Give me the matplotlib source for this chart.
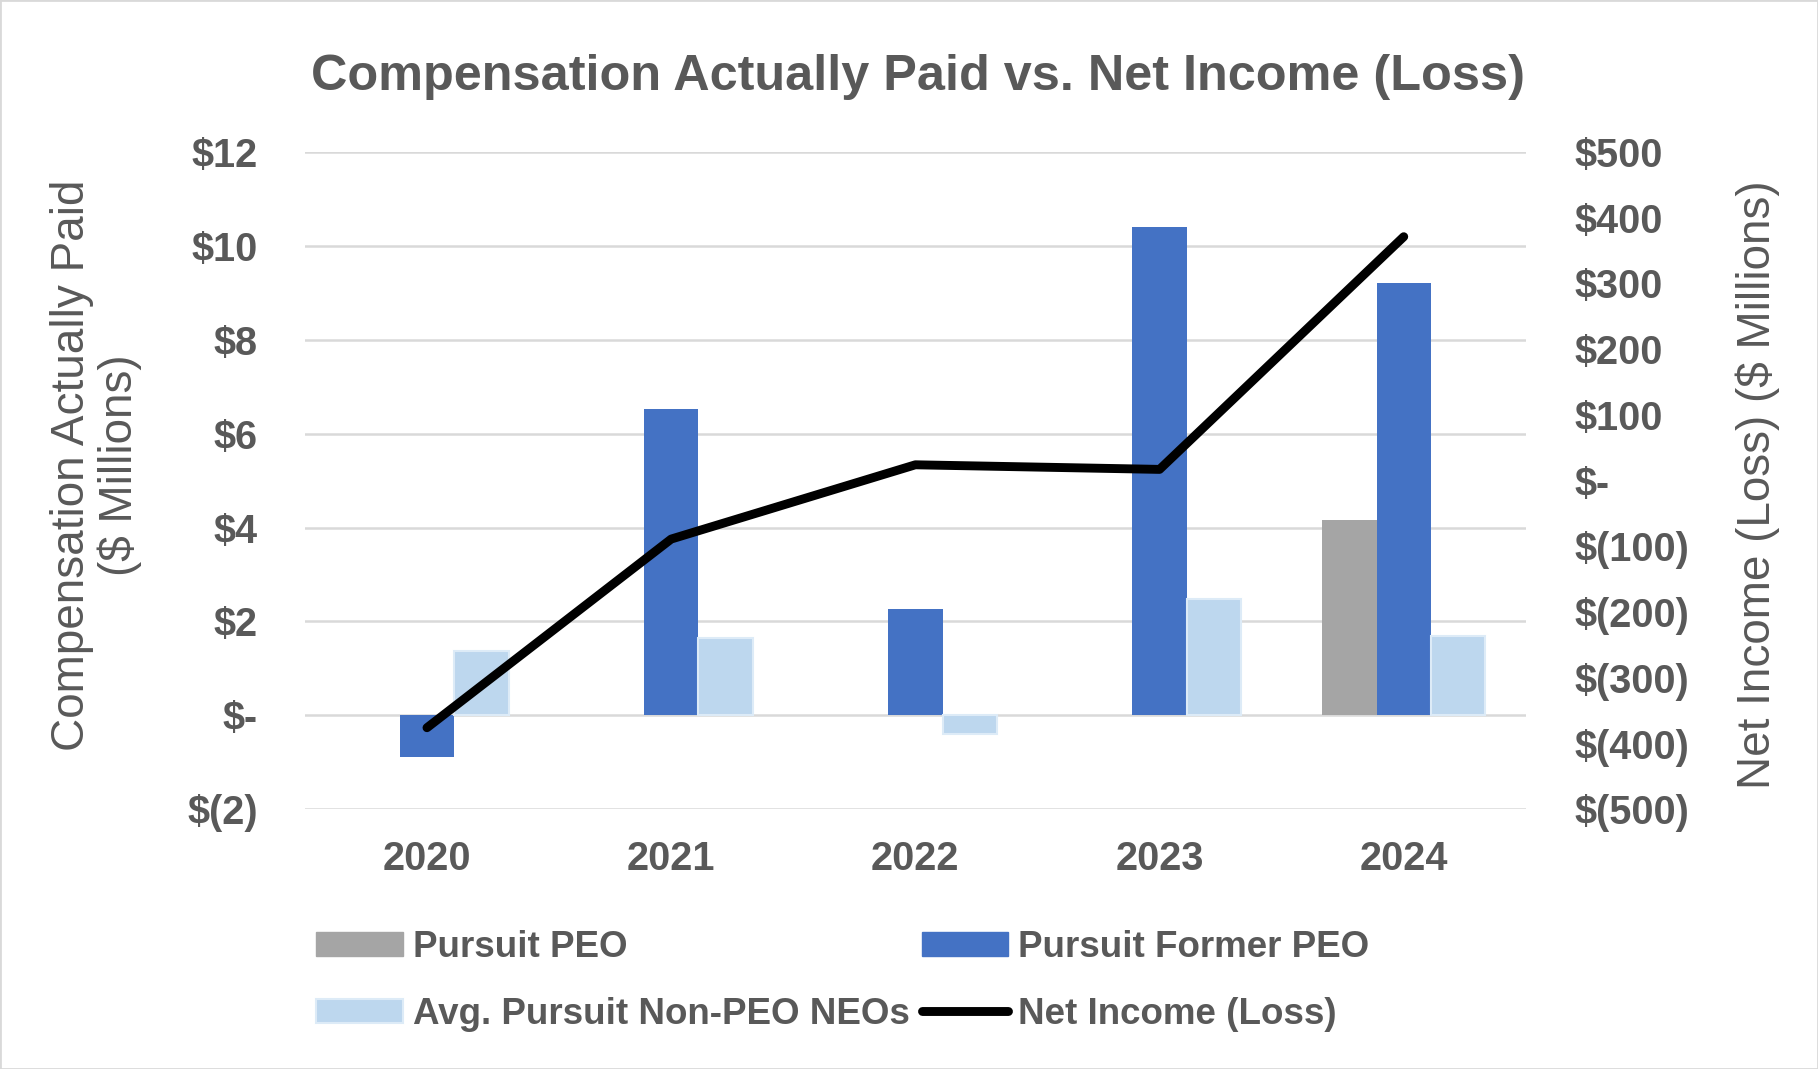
import matplotlib
matplotlib.use("Agg")
import matplotlib.pyplot as plt
import numpy as np
from matplotlib.patches import Patch, Rectangle
from matplotlib.lines import Line2D
from matplotlib.ticker import FixedLocator, FuncFormatter

plt.rcParams['font.family'] = ['Liberation Sans', 'DejaVu Sans']

years = ["2020", "2021", "2022", "2023", "2024"]
pursuit_peo = [0.0, 0.0, 0.0, 0.0, 4.15]
former_peo = [-0.89, 6.52, 2.27, 10.4, 9.2]
non_peo_neos = [1.38, 1.65, -0.40, 2.47, 1.68]
net_income = [-376, -89, 24, 17, 371]

left_ticks = [-2, 0, 2, 4, 6, 8, 10, 12]
right_ticks = [-500, -400, -300, -200, -100, 0, 100, 200, 300, 400, 500]

GREY_TXT = "#595959"
C_PEO = "#A5A5A5"
C_FORMER = "#4472C4"
C_NON = "#BDD7EE"

fig = plt.figure(figsize=(18.18, 10.69), dpi=100)
ax = fig.add_axes([0.1677, 0.2430, 0.6716, 0.6149])
ax2 = ax.twinx()

x = np.arange(len(years))
w = 0.223
ax.bar(x - w, pursuit_peo, w, color=C_PEO, zorder=2)
ax.bar(x, former_peo, w, color=C_FORMER, zorder=2)
ax.bar(x + w, non_peo_neos, w, color=C_NON, edgecolor="#DDEBF7", linewidth=1.5, zorder=2)

ax2.plot(x, net_income, color="black", lw=6.4, solid_joinstyle="round",
         solid_capstyle="round", zorder=3)

ax.set_xlim(-0.5, len(years) - 0.5)
ax.set_ylim(-2, 12)
ax2.set_ylim(-500, 500)

def fmt(v, pos=None):
    v = int(round(v))
    if v == 0:
        return "$-"
    if v < 0:
        return f"$({-v})"
    return f"${v}"

ax.yaxis.set_major_locator(FixedLocator(left_ticks))
ax.yaxis.set_major_formatter(FuncFormatter(fmt))
ax2.yaxis.set_major_locator(FixedLocator(right_ticks))
ax2.yaxis.set_major_formatter(FuncFormatter(fmt))
ax.set_xticks(x)
ax.set_xticklabels(years)

ax.grid(axis="y", color="#D9D9D9", lw=1.8, zorder=0)
ax.set_axisbelow(True)
for a in (ax, ax2):
    for s in a.spines.values():
        s.set_visible(False)

ax.tick_params(axis="y", length=0, pad=34, labelsize=28.5, labelcolor=GREY_TXT)
ax.tick_params(axis="x", length=0, pad=22, labelsize=28.5, labelcolor=GREY_TXT)
ax2.tick_params(axis="y", length=0, pad=35, labelsize=28.5, labelcolor=GREY_TXT)
for lab in ax.get_yticklabels() + ax.get_xticklabels() + ax2.get_yticklabels():
    lab.set_fontweight("bold")

fig.text(0.505, 0.916, "Compensation Actually Paid vs. Net Income (Loss)",
         ha="center", va="baseline", fontsize=36.3, fontweight="bold", color=GREY_TXT)

fig.text(0.053, 0.5645, "Compensation Actually Paid\n($ Millions)", rotation=90,
         ha="center", va="center", multialignment="center", fontsize=33,
         color=GREY_TXT, linespacing=1.1)
fig.text(0.967, 0.547, "Net Income (Loss) ($ Millions)", rotation=90,
         ha="center", va="center", fontsize=33, color=GREY_TXT)

handles = [
    Patch(facecolor=C_PEO, edgecolor=C_PEO),
    Patch(facecolor=C_NON, edgecolor="#DDEBF7", linewidth=1.5),
    Patch(facecolor=C_FORMER, edgecolor=C_FORMER),
    Line2D([0], [0], color="black", lw=6.4, solid_capstyle="round"),
]
labels = ["Pursuit PEO", "Avg. Pursuit Non-PEO NEOs", "Pursuit Former PEO", "Net Income (Loss)"]
leg = fig.legend(handles, labels, ncol=2, loc="upper left",
                 bbox_to_anchor=(0.174, 0.130), frameon=False,
                 prop={"size": 26.5, "weight": "bold"},
                 handlelength=2.35, handleheight=0.63, handletextpad=0.27,
                 columnspacing=0.33, labelspacing=0.86, borderpad=0, borderaxespad=0)
for t in leg.get_texts():
    t.set_color(GREY_TXT)

fig.patches.append(Rectangle((0, 0), 1, 1, transform=fig.transFigure,
                             fill=False, edgecolor="#D9D9D9", lw=2))

fig.savefig("out.png", dpi=100)
